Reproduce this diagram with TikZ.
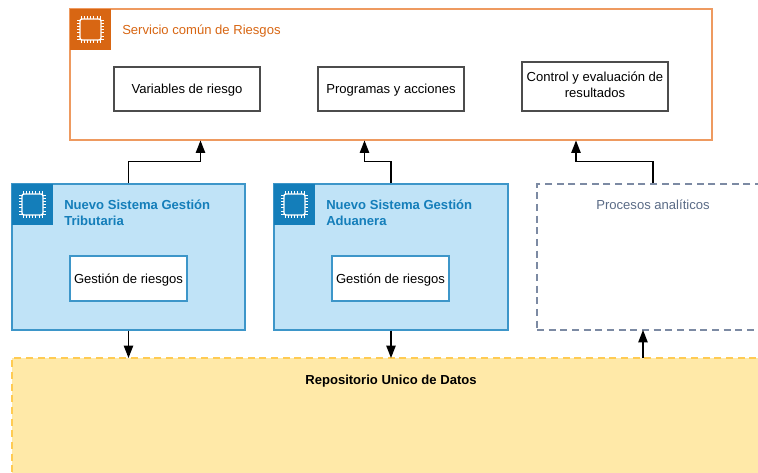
\documentclass[tikz,border=0pt]{standalone}
\usepackage{fontspec}
\setmainfont{Liberation Sans}
\usetikzlibrary{arrows.meta}
\definecolor{orangeA}{HTML}{D86613}
\definecolor{orangeB}{HTML}{EE9A60}
\definecolor{blueA}{HTML}{147EBA}
\definecolor{blueB}{HTML}{3D96C9}
\definecolor{blueL}{HTML}{C0E3F7}
\definecolor{yellowL}{HTML}{FFE9A8}
\definecolor{yellowD}{HTML}{FFCB52}
\definecolor{greyD}{HTML}{5A6B86}
\definecolor{greyB}{HTML}{7C8AA3}
\newcommand{\shifted}[2]{\raisebox{#1}[\height][\depth]{#2}}
\tikzset{
  px/.style={x=0.75pt,y=-0.75pt},
  txt/.style={font=\fontsize{9.8pt}{12pt}\selectfont},
  bftxt/.style={font=\fontsize{9.8pt}{12pt}\selectfont\bfseries},
  box/.style={draw,inner sep=0pt,line width=0.9pt,align=center,txt},
  inner/.style={box,fill=white,draw=black!70},
  innerb/.style={box,fill=white,draw=blueB},
  group/.style={box},
  dashy/.style={line width=0.8pt,dash pattern=on 5.25pt off 3.5pt},
  conn/.style={draw=black,line width=0.95pt,-{Triangle[length=9.25pt,width=7pt]}},
  head/.style={anchor=north west,inner sep=0pt,align=left,txt},
  chip/.pic={
    \foreach \t in {-9.6,-6.4,-3.2,0,3.2,6.4,9.6}{
      \draw[white,line width=0.55pt] (\t,-13.5) -- (\t,13.5);
      \draw[white,line width=0.55pt] (-13.5,\t) -- (13.5,\t);
    }
    \fill[picfill,draw=white,line width=1.05pt,rounded corners=1.5pt] (-10.5,-10.5) rectangle (10.5,10.5);
  }
}
\colorlet{picfill}{orangeA}
\begin{document}
\begin{tikzpicture}[px,line join=miter]
\clip (0,0) rectangle (758,473);
% groups
\node[group,draw=orangeB,fill=white,minimum width=481.5pt,minimum height=98.25pt] (serv) at (391,74.5) {};
\node[group,draw=blueB,fill=blueL,minimum width=174.75pt,minimum height=109.5pt] (trib) at (128.5,257) {};
\node[group,draw=blueB,fill=blueL,minimum width=175.5pt,minimum height=109.5pt] (adua) at (391,257) {};
\node[group,draw=greyB,dashy,fill=white,minimum width=174pt,minimum height=109.5pt] (proc) at (653,257) {};
\node[group,draw=yellowD,dashy,fill=yellowL,minimum width=568.5pt,minimum height=112.5pt] (repo) at (391,433) {};
% icon squares
\node[fill=orangeA,minimum size=30.75pt,inner sep=0pt] (isq1) at (90.5,29.5) {};
\node[fill=blueA,minimum size=30.75pt,inner sep=0pt] (isq2) at (32.5,204.5) {};
\node[fill=blueA,minimum size=30.75pt,inner sep=0pt] (isq3) at (294.5,204.5) {};
\path (isq1.center) pic {chip};
\colorlet{picfill}{blueA}
\path (isq2.center) pic {chip};
\path (isq3.center) pic {chip};
% titles
\node[head,text=orangeA] (t1) at (122,24.5) {Servicio común de Riesgos};
\node[head,text=blueA,bftxt] (t2) at (64,200) {Nuevo Sistema Gestión\\Tributaria};
\node[head,text=blueA,bftxt] (t3) at (326,200) {Nuevo Sistema Gestión\\Aduanera};
\node[txt,text=greyD,inner sep=0pt] (t4) at (653,204.5) {Procesos analíticos};
\node[bftxt,inner sep=0pt] (t5) at (391,381) {Repositorio Unico de Datos};
% inner boxes
\node[inner,minimum width=109.5pt,minimum height=33pt] (v) at (187,89) {\shifted{-0.75pt}{Variables de riesgo}};
\node[inner,minimum width=109.5pt,minimum height=33pt] (p) at (391,89) {\shifted{-0.75pt}{Programas y acciones}};
\node[inner,minimum width=109.5pt,minimum height=36.75pt] (c) at (595,86.5) {\shifted{1.5pt}{Control y evaluación de}\\\shifted{1.5pt}{resultados}};
\node[innerb,minimum width=87.75pt,minimum height=33.75pt] (g1) at (128.5,278.5) {\shifted{-1.5pt}{Gestión de riesgos}};
\node[innerb,minimum width=87.75pt,minimum height=33.75pt] (g2) at (390.5,278.5) {\shifted{-1.5pt}{Gestión de riesgos}};
% connector ends
\coordinate (s1) at (200.5,140.5);
\coordinate (s2) at (364.5,140.5);
\coordinate (s3) at (576,140.5);
\coordinate (r1) at (128.5,358);
\coordinate (r2) at (391,358);
\coordinate (r3) at (643,358);
\coordinate (q3) at (643,330);
\draw[conn] (trib.north) -- ++(0,-22) -| (s1);
\draw[conn] (adua.north) -- ++(0,-22) -| (s2);
\draw[conn] (proc.north) -- ++(0,-22) -| (s3);
\draw[conn] (trib.south) -- (r1);
\draw[conn] (adua.south) -- (r2);
\draw[conn] (r3) -- (q3);
\end{tikzpicture}
\end{document}
